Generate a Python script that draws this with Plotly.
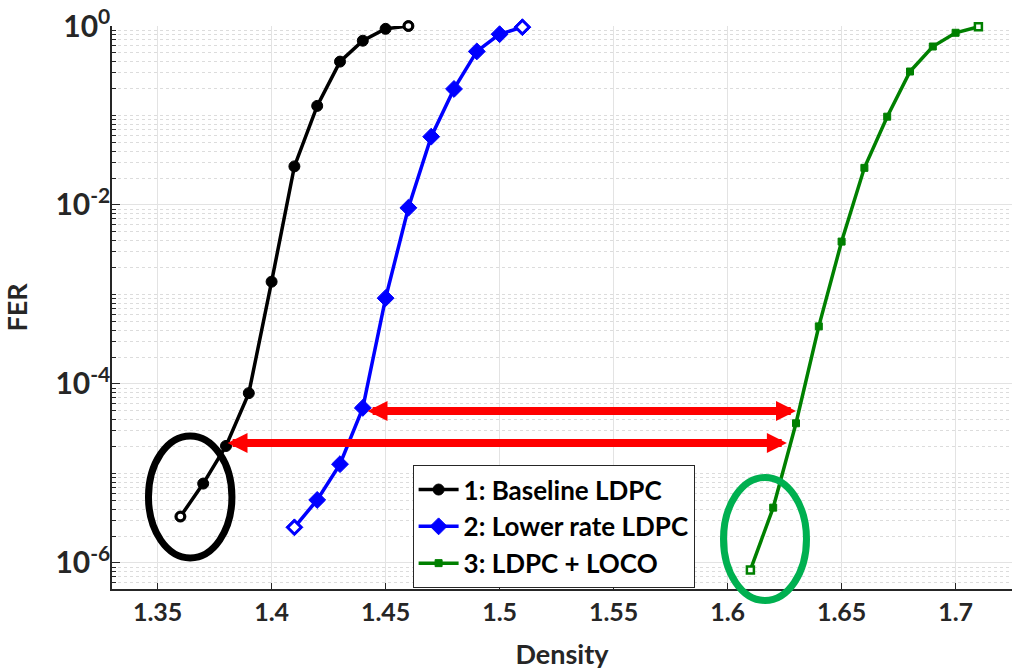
import plotly.graph_objects as go
import numpy as np

# ---- data ----
density_base = [1.36, 1.37, 1.38, 1.39, 1.40, 1.41, 1.42, 1.43, 1.44, 1.45, 1.46]
fer_base = [3.3e-6, 7.7e-6, 2.03e-5, 7.9e-5, 1.39e-3, 2.7e-2, 0.128, 0.40, 0.685, 0.93, 1.0]

density_low = [1.41, 1.42, 1.43, 1.44, 1.45, 1.46, 1.47, 1.48, 1.49, 1.50, 1.51]
fer_low = [2.5e-6, 5.06e-6, 1.27e-5, 5.4e-5, 9.1e-4, 9.3e-3, 5.8e-2, 0.198, 0.52, 0.81, 0.97]

density_loco = [1.61, 1.62, 1.63, 1.64, 1.65, 1.66, 1.67, 1.68, 1.69, 1.70, 1.71]
fer_loco = [8.35e-7, 4.15e-6, 3.64e-5, 4.4e-4, 3.9e-3, 2.6e-2, 9.7e-2, 0.31, 0.59, 0.84, 0.98]

series_names = ["1: Baseline LDPC", "2: Lower rate LDPC", "3: LDPC + LOCO"]

x_ticks = [1.35, 1.40, 1.45, 1.50, 1.55, 1.60, 1.65, 1.70]
x_tick_labels = ["1.35", "1.4", "1.45", "1.5", "1.55", "1.6", "1.65", "1.7"]
y_ticks = [1, 1e-2, 1e-4, 1e-6]
y_tick_labels = ["10<sup>0</sup>", "10<sup>-2</sup>", "10<sup>-4</sup>", "10<sup>-6</sup>"]

# red double arrows: (x_left, x_right, FER level)
arrow_x_left = [1.4414, 1.3800]
arrow_x_right = [1.6300, 1.6260]
arrow_fer = [5.0e-5, 2.19e-5]

# highlight ellipses: x in data units, y in paper units
ellipse_x0 = [1.3460, 1.5982]
ellipse_x1 = [1.3826, 1.6346]
ellipse_y0 = [0.0551, -0.0204]
ellipse_y1 = [0.2718, 0.1980]
ellipse_colors = ["#000000", "#00B050"]

TXT = "#262626"
FONT = "Lato"

fig = go.Figure()

styles = [
    dict(color="#000000", symbol="circle", size=11, end_size=8, width=3.5),
    dict(color="#0000FF", symbol="diamond", size=13, end_size=10, width=3.5),
    dict(color="#008000", symbol="square", size=7, end_size=7, width=3.5),
]
datasets = [(density_base, fer_base), (density_low, fer_low), (density_loco, fer_loco)]

for (xs, ys), name, st in zip(datasets, series_names, styles):
    fig.add_trace(go.Scatter(
        x=xs, y=ys, mode="lines+markers", name=name, cliponaxis=False,
        line=dict(color=st["color"], width=st["width"]),
        marker=dict(symbol=st["symbol"], size=st["size"], color=st["color"],
                    line=dict(color=st["color"], width=1)),
    ))
    # hollow end markers
    fig.add_trace(go.Scatter(
        x=[xs[0], xs[-1]], y=[ys[0], ys[-1]], mode="markers", showlegend=False,
        cliponaxis=False,
        marker=dict(symbol=st["symbol"], size=st["end_size"], color="white",
                    line=dict(color=st["color"], width=2.5)),
        hoverinfo="skip",
    ))

# arrows
for xl, xr, fv in zip(arrow_x_left, arrow_x_right, arrow_fer):
    ly = float(np.log10(fv))
    fig.add_annotation(
        x=xr, y=ly, ax=xl, ay=ly, xref="x", yref="y", axref="x", ayref="y",
        text="", showarrow=True, arrowhead=2, startarrowhead=2,
        arrowside="end+start", arrowwidth=8, arrowsize=0.5, startarrowsize=0.5,
        arrowcolor="#FF0000", standoff=0, startstandoff=0,
    )

for x0, x1, y0, y1, c in zip(ellipse_x0, ellipse_x1, ellipse_y0, ellipse_y1, ellipse_colors):
    fig.add_shape(type="circle", xref="x", yref="paper", x0=x0, x1=x1, y0=y0, y1=y1,
                  line=dict(color=c, width=7), layer="above")

minor_vals = []
for k in range(-7, 0):
    for m in range(1, 10):
        v = m * 10.0 ** k
        if v not in y_ticks:
            minor_vals.append(v)

fig.update_layout(
    width=1012, height=670,
    margin=dict(l=112, r=0, t=26, b=81),
    paper_bgcolor="white", plot_bgcolor="white",
    font=dict(family=FONT, color=TXT, size=24, weight="bold"),
    showlegend=True,
    legend=dict(
        x=0.334, y=0.220, xanchor="left", yanchor="top",
        bgcolor="white", bordercolor="#262626", borderwidth=1,
        font=dict(family=FONT, size=26, color="#000000", weight="bold"),
        itemwidth=40, tracegroupgap=0,
    ),
    xaxis=dict(
        range=[1.33, 1.33 + 900 / 2280],
        tickvals=x_ticks, ticktext=x_tick_labels,
        ticks="inside", ticklen=6, tickcolor=TXT, tickwidth=1,
        showline=True, linecolor=TXT, linewidth=1.5,
        showgrid=True, gridcolor="#e3e3e3", gridwidth=1,
        zeroline=False,
        tickfont=dict(family=FONT, size=25, color=TXT, weight="bold"),
        title=dict(text="Density", font=dict(family=FONT, size=27, color=TXT, weight="bold"), standoff=22),
    ),
    yaxis=dict(
        type="log", range=[-6.291, 0],
        tickvals=y_ticks, ticktext=y_tick_labels,
        ticks="inside", ticklen=8, tickcolor=TXT, tickwidth=1,
        ticklabelstandoff=-6,
        showline=True, linecolor=TXT, linewidth=1.5,
        showgrid=True, gridcolor="#e3e3e3", gridwidth=1,
        zeroline=False,
        tickfont=dict(family=FONT, size=30, color=TXT, weight="bold"),
        title=dict(text="FER", font=dict(family=FONT, size=27, color=TXT, weight="bold"), standoff=20),
        minor=dict(tickvals=minor_vals, ticks="inside", ticklen=4, tickcolor=TXT,
                   showgrid=True, gridcolor="#dcdcdc", griddash="dot", gridwidth=1),
    ),
)

fig.write_html("out.html")
